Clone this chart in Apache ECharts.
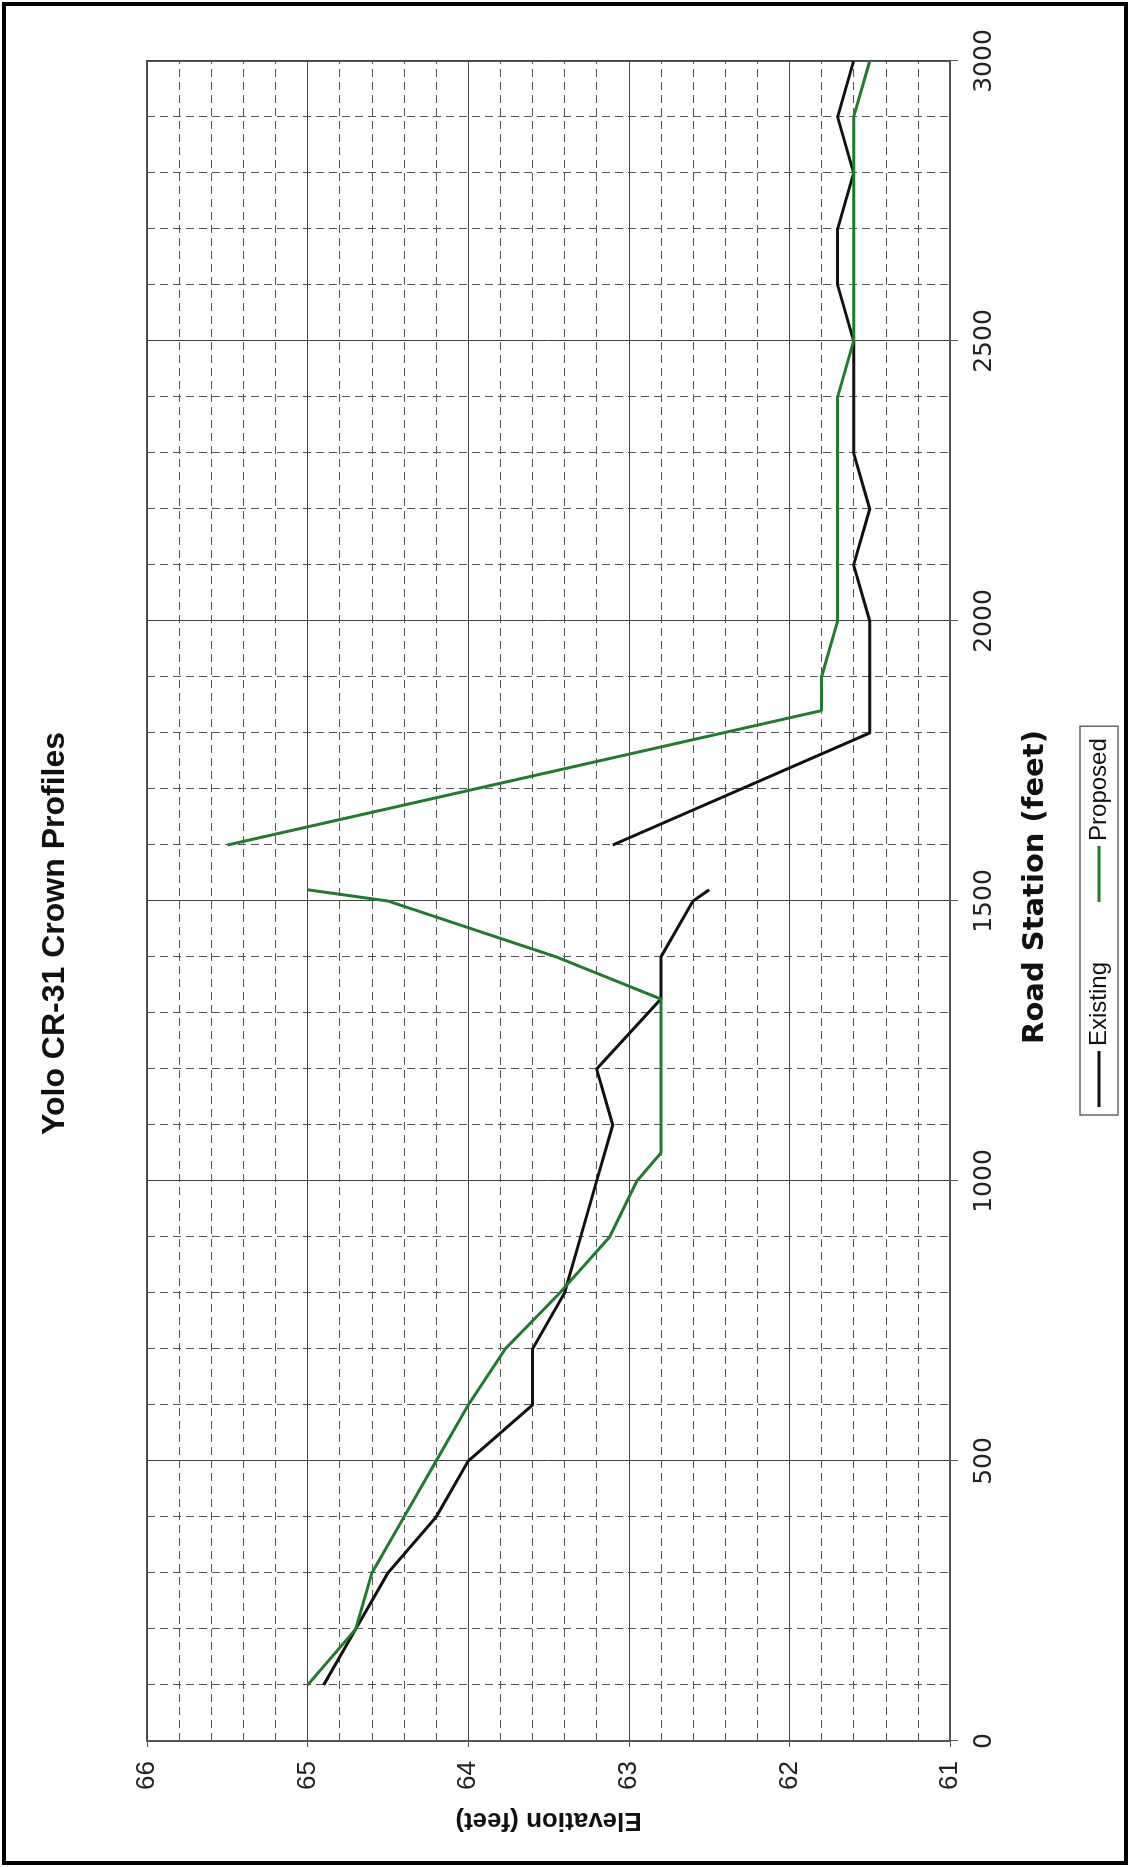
<!DOCTYPE html>
<html>
<head>
<meta charset="utf-8">
<title>Yolo CR-31 Crown Profiles</title>
<script src="https://cdn.jsdelivr.net/npm/echarts@6/dist/echarts.min.js"></script>
<style>
html, body {
  margin: 0;
  padding: 0;
  width: 1131px;
  height: 1867px;
  overflow: hidden;
  background: #fff;
}
/* the chart is laid out landscape and turned a quarter turn, like the scanned page */
#chart {
  position: absolute;
  left: 0;
  top: 0;
  width: 1867px;
  height: 1131px;
  transform-origin: 0 0;
  transform: translate(0, 1867px) rotate(-90deg);
}
</style>
</head>
<body>
<div id="chart"></div>
<script>
// road station (feet) and crown elevation (feet)
const existingStation = [100, 200, 300, 400, 500, 600, 700, 800, 900, 1000, 1100, 1200, 1325, 1400, 1500, 1520, 1560, 1600, 1800, 1900, 2000, 2100, 2200, 2300, 2400, 2500, 2600, 2700, 2800, 2900, 3000];
const existingElev = [64.9, 64.7, 64.5, 64.2, 64.0, 63.6, 63.6, 63.4, 63.3, 63.2, 63.1, 63.2, 62.8, 62.8, 62.6, 62.5, null, 63.1, 61.5, 61.5, 61.5, 61.6, 61.5, 61.6, 61.6, 61.6, 61.7, 61.7, 61.6, 61.7, 61.6];

const proposedStation = [100, 200, 300, 400, 500, 600, 700, 800, 900, 1000, 1050, 1100, 1200, 1325, 1400, 1500, 1520, 1560, 1600, 1840, 1900, 2000, 2100, 2200, 2300, 2400, 2500, 2600, 2700, 2800, 2900, 3000];
const proposedElev = [65.0, 64.7, 64.6, 64.4, 64.2, 64.0, 63.77, 63.43, 63.12, 62.95, 62.8, 62.8, 62.8, 62.8, 63.45, 64.5, 65.0, null, 65.5, 61.8, 61.8, 61.7, 61.7, 61.7, 61.7, 61.7, 61.6, 61.6, 61.6, 61.6, 61.6, 61.5];

const seriesNames = ['Existing', 'Proposed'];

function pairs(xs, ys) {
  return xs.map(function (x, i) { return [x, ys[i]]; });
}

const chart = echarts.init(document.getElementById('chart'));

const font = '"Liberation Sans", Arial, sans-serif';
const wideFont = '"DejaVu Sans", sans-serif';

chart.setOption({
  animation: false,
  backgroundColor: '#fff',
  title: {
    text: 'Yolo CR-31 Crown Profiles',
    left: 'center',
    top: 34,
    textStyle: { fontFamily: font, fontSize: 32, fontWeight: 'bold', color: '#111' }
  },
  legend: {
    data: seriesNames,
    left: 752,
    top: 1080,
    padding: [7, 12, 7, 8],
    itemGap: 60,
    itemWidth: 56,
    itemHeight: 3,
    icon: 'rect',
    borderColor: '#666',
    borderWidth: 1.5,
    textStyle: { fontFamily: font, fontSize: 24, color: '#111' }
  },
  graphic: [{
    type: 'rect',
    shape: { x: 4, y: 4, width: 1859, height: 1122 },
    style: { fill: null, stroke: '#000', lineWidth: 4 },
    silent: true
  }],
  grid: {
    left: 126,
    right: 61,
    top: 147,
    bottom: 181,
    show: true,
    borderColor: '#555',
    borderWidth: 2
  },
  xAxis: {
    type: 'value',
    min: 0,
    max: 3000,
    interval: 500,
    name: 'Road Station (feet)',
    nameLocation: 'middle',
    nameGap: 71,
    nameTextStyle: { fontFamily: wideFont, fontSize: 29, fontWeight: 'bold', color: '#111', padding: [0, 0, 0, 28] },
    axisLine: { lineStyle: { color: '#555', width: 2 } },
    axisTick: { show: true, length: 8, lineStyle: { color: '#555' } },
    axisLabel: {
      margin: 22,
      fontFamily: wideFont,
      fontSize: 25,
      color: '#222',
      formatter: function (v) { return String(v); }
    },
    splitLine: { show: true, lineStyle: { color: '#444', width: 1 } },
    minorTick: { show: false, splitNumber: 5 },
    minorSplitLine: { show: true, lineStyle: { color: '#555', width: 1, type: [8, 5] } }
  },
  yAxis: {
    type: 'value',
    min: 61,
    max: 66,
    interval: 1,
    name: 'Elevation (feet)',
    nameLocation: 'middle',
    nameRotate: 90,
    nameGap: 66,
    nameTextStyle: { fontFamily: font, fontSize: 26, fontWeight: 'bold', color: '#111' },
    axisLine: { show: true, lineStyle: { color: '#555', width: 2 } },
    axisTick: { show: true, length: 6, lineStyle: { color: '#555' } },
    axisLabel: { margin: 20, fontFamily: font, fontSize: 26, color: '#222' },
    splitLine: { show: true, lineStyle: { color: '#444', width: 1 } },
    minorTick: { show: false, splitNumber: 5 },
    minorSplitLine: { show: true, lineStyle: { color: '#555', width: 1, type: [8, 5] } }
  },
  series: [
    {
      name: seriesNames[0],
      type: 'line',
      symbol: 'none',
      connectNulls: false,
      lineStyle: { color: '#111', width: 3 },
      itemStyle: { color: '#111' },
      data: pairs(existingStation, existingElev)
    },
    {
      name: seriesNames[1],
      type: 'line',
      symbol: 'none',
      connectNulls: false,
      lineStyle: { color: '#23792f', width: 3 },
      itemStyle: { color: '#23792f' },
      data: pairs(proposedStation, proposedElev)
    }
  ]
});
</script>
</body>
</html>
